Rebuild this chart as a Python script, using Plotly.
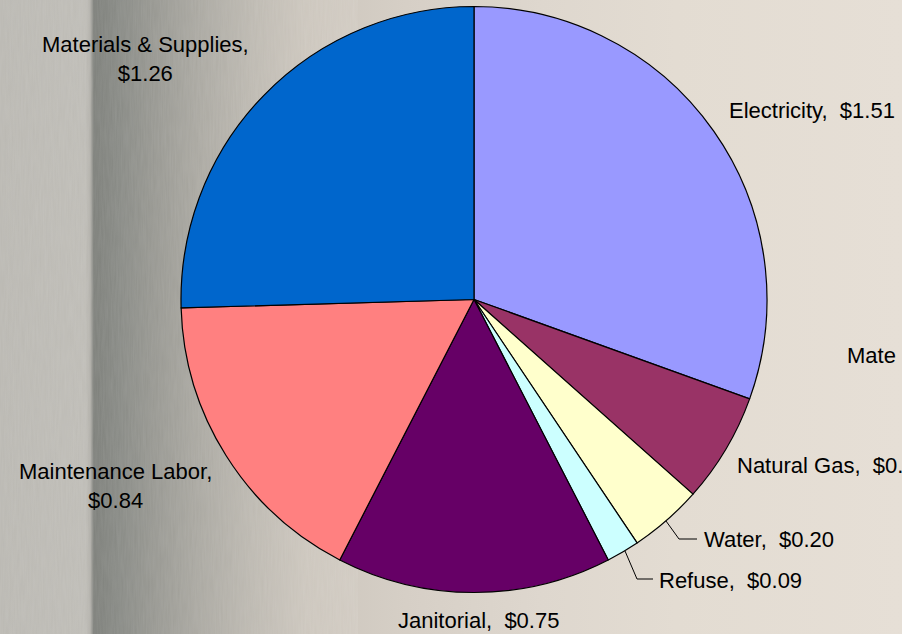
import base64
import plotly.graph_objects as go

# ---- data ----
categories = ["Electricity", "Natural Gas", "Water", "Refuse", "Janitorial",
              "Maintenance Labor", "Materials & Supplies"]
values = [1.51, 0.30, 0.20, 0.09, 0.75, 0.84, 1.26]
colors = ["#9999FF", "#993366", "#FFFFCC", "#CCFFFF", "#660066", "#FF8080", "#0066CC"]

W, H = 902, 634

def px(x):
    return x / W

def py(y):
    return 1 - y / H

# ---- textured background as inline SVG ----
stops = [
    (0.000, "#bab8b2"), (0.095, "#bebcb6"), (0.100, "#b2b0aa"), (0.104, "#7d7f7a"),
    (0.130, "#878984"), (0.170, "#979791"), (0.220, "#aaa8a1"), (0.280, "#bdb9b1"),
    (0.340, "#ccc6bd"), (0.450, "#d6cfc6"), (0.600, "#ded7ce"), (0.750, "#e3dcd2"),
    (1.000, "#e6dfd6"),
]
stop_xml = "".join(f'<stop offset="{o}" stop-color="{c}"/>' for o, c in stops)
svg = (
    f'<svg xmlns="http://www.w3.org/2000/svg" width="{W}" height="{H}" viewBox="0 0 {W} {H}">'
    f'<defs><linearGradient id="g" x1="0" y1="0" x2="1" y2="0">{stop_xml}</linearGradient>'
    '<filter id="n"><feTurbulence type="fractalNoise" baseFrequency="0.6 0.04" numOctaves="2" seed="3"/>'
    '<feColorMatrix type="matrix" values="0 0 0 0 1  0 0 0 0 1  0 0 0 0 1  0 0 0 0.10 0"/></filter></defs>'
    f'<rect width="{W}" height="{H}" fill="url(#g)"/>'
    f'<rect width="{W*0.36}" height="{H}" filter="url(#n)"/>'
    '</svg>'
)
bg_src = "data:image/svg+xml;base64," + base64.b64encode(svg.encode()).decode()

fig = go.Figure()
fig.add_trace(go.Pie(
    labels=categories,
    values=values,
    sort=False,
    direction="clockwise",
    rotation=0,
    marker=dict(colors=colors, line=dict(color="#000000", width=1.2)),
    textinfo="none",
    hoverinfo="label+value",
    showlegend=False,
    domain=dict(x=[px(181), px(767)], y=[py(592.5), py(6.5)]),
))

font = dict(family="Liberation Sans, Arial, sans-serif", size=22, color="#000000")

def label(text, x, y, xanchor="center"):
    fig.add_annotation(text=text, x=px(x), y=py(y), xref="paper", yref="paper",
                       xanchor=xanchor, yanchor="middle", showarrow=False,
                       font=font, align="center")

label("Materials & Supplies,<br>$1.26", 145, 59)
label("Electricity,  $1.51", 727, 110, "left")
label("Mate", 845, 356, "left")
label("Natural Gas,  $0.30", 735, 465, "left")
label("Water,  $0.20", 702, 539, "left")
label("Refuse,  $0.09", 657, 580, "left")
label("Janitorial,  $0.75", 478, 620)
label("Maintenance Labor,<br>$0.84", 115, 486)

# leader lines
for pts in ([(666, 521), (679, 539), (697, 539)], [(625, 551), (637, 579), (653, 579)]):
    path = "M " + " L ".join(f"{px(x)},{py(y)}" for x, y in pts)
    fig.add_shape(type="path", path=path, xref="paper", yref="paper",
                  line=dict(color="#000000", width=1))

fig.add_layout_image(dict(source=bg_src, xref="paper", yref="paper", x=0, y=1,
                          sizex=1, sizey=1, sizing="stretch", layer="below",
                          xanchor="left", yanchor="top"))

fig.update_layout(
    width=W, height=H,
    margin=dict(l=0, r=0, t=0, b=0),
    paper_bgcolor="#e3dcd2",
    plot_bgcolor="rgba(0,0,0,0)",
)

fig.write_html("out.html",
               config={"displayModeBar": False},
               post_script="document.body.style.margin='0';document.body.style.overflow='hidden';")
